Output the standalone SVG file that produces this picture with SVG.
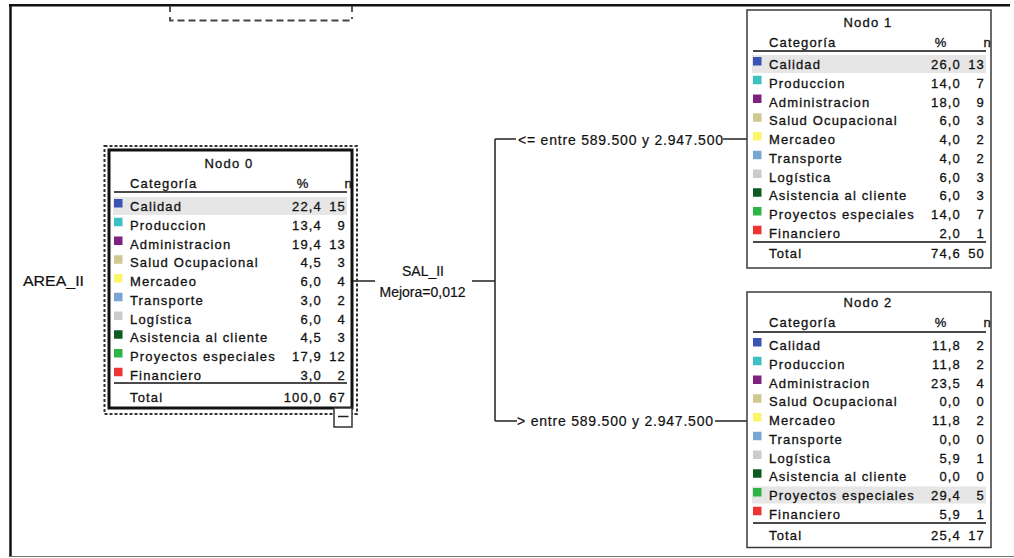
<svg xmlns="http://www.w3.org/2000/svg" width="1014" height="558" viewBox="0 0 1014 558">
<style>
.t{font-family:"Liberation Sans",Arial,sans-serif;font-size:13px;letter-spacing:1.15px;fill:#111;stroke:#111;stroke-width:0.3px}
.e{text-anchor:end}
.m{text-anchor:middle}
.lbl{font-family:"Liberation Sans",Arial,sans-serif;font-size:14px;fill:#111;stroke:#111;stroke-width:0.2px}
.hl{fill:#e6e6e6}
.rule{stroke:#4a4a4a;stroke-width:2}
.conn{stroke:#222;stroke-width:1.5;fill:none}
.box{fill:#fff;stroke:#3a3a3a;stroke-width:1.5}
.c1{fill:#3a53b5}.c2{fill:#3cc0c4}.c3{fill:#7e2180}.c4{fill:#cfc98f}.c5{fill:#fbf56a}
.c6{fill:#7aa6d6}.c7{fill:#cccccc}.c8{fill:#0d5a22}.c9{fill:#2db444}.c10{fill:#ee3333}
</style>
<rect width="1014" height="558" fill="#fff"/>
<!-- frame -->
<line x1="10.5" y1="4" x2="10.5" y2="557" stroke="#111" stroke-width="2.5"/>
<line x1="9" y1="5.2" x2="1010" y2="5.2" stroke="#111" stroke-width="2.5"/>
<line x1="10" y1="556.5" x2="1014" y2="556.5" stroke="#777" stroke-width="1.2"/>
<!-- partial dashed box at top -->
<g id="hidden-node" fill="none" stroke="#444" stroke-width="1.8">
<line x1="170" y1="6" x2="170" y2="12"/>
<line x1="352" y1="6" x2="352" y2="12"/>
<path d="M170,17 V20.5 H352 V17" stroke-dasharray="7,4"/>
</g>
<!-- connectors -->
<g id="connectors">
<path class="conn" d="M352,281 H375 M472,281 H495 M495,139 V421 M495,139 H516 M723,139 H747 M495,421 H517 M715,421 H747"/>
</g>
<g id="labels">
<text class="lbl" x="23" y="286" textLength="61" lengthAdjust="spacingAndGlyphs">AREA_II</text>
<text class="lbl m" x="423" y="275.5">SAL_II</text>
<text class="lbl m" x="422.5" y="296.5">Mejora=0,012</text>
<text class="lbl" x="518" y="144.5" textLength="205" lengthAdjust="spacing">&lt;= entre 589.500 y 2.947.500</text>
<text class="lbl" x="517" y="426" textLength="196" lengthAdjust="spacing">&gt; entre 589.500 y 2.947.500</text>
</g>
<!-- Node 0 -->
<g id="node0">
<rect x="104.5" y="146" width="252.5" height="268" fill="none" stroke="#333" stroke-width="2" stroke-dasharray="3,2"/>
<rect x="109" y="150" width="243" height="258" fill="#fff" stroke="#111" stroke-width="3"/>
<rect x="334" y="408" width="18" height="19" fill="#fff" stroke="#333" stroke-width="1.5"/>
<line x1="338" y1="416.5" x2="348.5" y2="416.5" stroke="#222" stroke-width="1.5"/>
<rect class="hl" x="113" y="197" width="234" height="18"/>
<text class="t m" x="229" y="168">Nodo 0</text>
<text class="t" x="130" y="188">Categoría</text><text class="t m" x="303" y="188">%</text><text class="t e" x="353" y="188">n</text>
<line class="rule" x1="114" y1="192" x2="347" y2="192"/>
<rect class="c1" x="114" y="199" width="8.5" height="8.5"/><text class="t" x="130" y="211">Calidad</text><text class="t e" x="322" y="211">22,4</text><text class="t e" x="346" y="211">15</text>
<rect class="c2" x="114" y="217.75" width="8.5" height="8.5"/><text class="t" x="130" y="229.75">Produccion</text><text class="t e" x="322" y="229.75">13,4</text><text class="t e" x="346" y="229.75">9</text>
<rect class="c3" x="114" y="236.5" width="8.5" height="8.5"/><text class="t" x="130" y="248.5">Administracion</text><text class="t e" x="322" y="248.5">19,4</text><text class="t e" x="346" y="248.5">13</text>
<rect class="c4" x="114" y="255.25" width="8.5" height="8.5"/><text class="t" x="130" y="267.25">Salud Ocupacional</text><text class="t e" x="322" y="267.25">4,5</text><text class="t e" x="346" y="267.25">3</text>
<rect class="c5" x="114" y="274" width="8.5" height="8.5"/><text class="t" x="130" y="286">Mercadeo</text><text class="t e" x="322" y="286">6,0</text><text class="t e" x="346" y="286">4</text>
<rect class="c6" x="114" y="292.75" width="8.5" height="8.5"/><text class="t" x="130" y="304.75">Transporte</text><text class="t e" x="322" y="304.75">3,0</text><text class="t e" x="346" y="304.75">2</text>
<rect class="c7" x="114" y="311.5" width="8.5" height="8.5"/><text class="t" x="130" y="323.5">Logística</text><text class="t e" x="322" y="323.5">6,0</text><text class="t e" x="346" y="323.5">4</text>
<rect class="c8" x="114" y="330.25" width="8.5" height="8.5"/><text class="t" x="130" y="342.25">Asistencia al cliente</text><text class="t e" x="322" y="342.25">4,5</text><text class="t e" x="346" y="342.25">3</text>
<rect class="c9" x="114" y="349" width="8.5" height="8.5"/><text class="t" x="130" y="361">Proyectos especiales</text><text class="t e" x="322" y="361">17,9</text><text class="t e" x="346" y="361">12</text>
<rect class="c10" x="114" y="367.75" width="8.5" height="8.5"/><text class="t" x="130" y="379.75">Financiero</text><text class="t e" x="322" y="379.75">3,0</text><text class="t e" x="346" y="379.75">2</text>
<line class="rule" x1="114" y1="383" x2="347" y2="383"/>
<text class="t" x="130" y="402">Total</text><text class="t e" x="322" y="402">100,0</text><text class="t e" x="346" y="402">67</text>
</g>
<!-- Node 1 -->
<g id="node1" transform="translate(639,-142)">
<rect class="box" x="108" y="152" width="244" height="258"/>
<rect class="hl" x="113" y="197" width="234" height="18"/>
<text class="t m" x="229" y="169">Nodo 1</text>
<text class="t" x="130" y="189">Categoría</text><text class="t m" x="302" y="189">%</text><text class="t e" x="353" y="189">n</text>
<line class="rule" x1="114" y1="193" x2="347" y2="193"/>
<rect class="c1" x="114" y="199" width="8.5" height="8.5"/><text class="t" x="130" y="211">Calidad</text><text class="t e" x="322" y="211">26,0</text><text class="t e" x="346" y="211">13</text>
<rect class="c2" x="114" y="217.75" width="8.5" height="8.5"/><text class="t" x="130" y="229.75">Produccion</text><text class="t e" x="322" y="229.75">14,0</text><text class="t e" x="346" y="229.75">7</text>
<rect class="c3" x="114" y="236.5" width="8.5" height="8.5"/><text class="t" x="130" y="248.5">Administracion</text><text class="t e" x="322" y="248.5">18,0</text><text class="t e" x="346" y="248.5">9</text>
<rect class="c4" x="114" y="255.25" width="8.5" height="8.5"/><text class="t" x="130" y="267.25">Salud Ocupacional</text><text class="t e" x="322" y="267.25">6,0</text><text class="t e" x="346" y="267.25">3</text>
<rect class="c5" x="114" y="274" width="8.5" height="8.5"/><text class="t" x="130" y="286">Mercadeo</text><text class="t e" x="322" y="286">4,0</text><text class="t e" x="346" y="286">2</text>
<rect class="c6" x="114" y="292.75" width="8.5" height="8.5"/><text class="t" x="130" y="304.75">Transporte</text><text class="t e" x="322" y="304.75">4,0</text><text class="t e" x="346" y="304.75">2</text>
<rect class="c7" x="114" y="311.5" width="8.5" height="8.5"/><text class="t" x="130" y="323.5">Logística</text><text class="t e" x="322" y="323.5">6,0</text><text class="t e" x="346" y="323.5">3</text>
<rect class="c8" x="114" y="330.25" width="8.5" height="8.5"/><text class="t" x="130" y="342.25">Asistencia al cliente</text><text class="t e" x="322" y="342.25">6,0</text><text class="t e" x="346" y="342.25">3</text>
<rect class="c9" x="114" y="349" width="8.5" height="8.5"/><text class="t" x="130" y="361">Proyectos especiales</text><text class="t e" x="322" y="361">14,0</text><text class="t e" x="346" y="361">7</text>
<rect class="c10" x="114" y="367.75" width="8.5" height="8.5"/><text class="t" x="130" y="379.75">Financiero</text><text class="t e" x="322" y="379.75">2,0</text><text class="t e" x="346" y="379.75">1</text>
<line class="rule" x1="114" y1="384" x2="347" y2="384"/>
<text class="t" x="130" y="400">Total</text><text class="t e" x="322" y="400">74,6</text><text class="t e" x="346" y="400">50</text>
</g>
<!-- Node 2 -->
<g id="node2" transform="translate(639,139)">
<rect class="box" x="108" y="153" width="244" height="255.5"/>
<rect class="hl" x="113" y="347.5" width="234" height="17"/>
<text class="t m" x="229" y="168">Nodo 2</text>
<text class="t" x="130" y="188">Categoría</text><text class="t m" x="302" y="188">%</text><text class="t e" x="353" y="188">n</text>
<line class="rule" x1="114" y1="193" x2="347" y2="193"/>
<rect class="c1" x="114" y="199" width="8.5" height="8.5"/><text class="t" x="130" y="211">Calidad</text><text class="t e" x="322" y="211">11,8</text><text class="t e" x="346" y="211">2</text>
<rect class="c2" x="114" y="217.75" width="8.5" height="8.5"/><text class="t" x="130" y="229.75">Produccion</text><text class="t e" x="322" y="229.75">11,8</text><text class="t e" x="346" y="229.75">2</text>
<rect class="c3" x="114" y="236.5" width="8.5" height="8.5"/><text class="t" x="130" y="248.5">Administracion</text><text class="t e" x="322" y="248.5">23,5</text><text class="t e" x="346" y="248.5">4</text>
<rect class="c4" x="114" y="255.25" width="8.5" height="8.5"/><text class="t" x="130" y="267.25">Salud Ocupacional</text><text class="t e" x="322" y="267.25">0,0</text><text class="t e" x="346" y="267.25">0</text>
<rect class="c5" x="114" y="274" width="8.5" height="8.5"/><text class="t" x="130" y="286">Mercadeo</text><text class="t e" x="322" y="286">11,8</text><text class="t e" x="346" y="286">2</text>
<rect class="c6" x="114" y="292.75" width="8.5" height="8.5"/><text class="t" x="130" y="304.75">Transporte</text><text class="t e" x="322" y="304.75">0,0</text><text class="t e" x="346" y="304.75">0</text>
<rect class="c7" x="114" y="311.5" width="8.5" height="8.5"/><text class="t" x="130" y="323.5">Logística</text><text class="t e" x="322" y="323.5">5,9</text><text class="t e" x="346" y="323.5">1</text>
<rect class="c8" x="114" y="330.25" width="8.5" height="8.5"/><text class="t" x="130" y="342.25">Asistencia al cliente</text><text class="t e" x="322" y="342.25">0,0</text><text class="t e" x="346" y="342.25">0</text>
<rect class="c9" x="114" y="349" width="8.5" height="8.5"/><text class="t" x="130" y="361">Proyectos especiales</text><text class="t e" x="322" y="361">29,4</text><text class="t e" x="346" y="361">5</text>
<rect class="c10" x="114" y="367.75" width="8.5" height="8.5"/><text class="t" x="130" y="379.75">Financiero</text><text class="t e" x="322" y="379.75">5,9</text><text class="t e" x="346" y="379.75">1</text>
<line class="rule" x1="114" y1="384" x2="347" y2="384"/>
<text class="t" x="130" y="401">Total</text><text class="t e" x="322" y="401">25,4</text><text class="t e" x="346" y="401">17</text>
</g>
</svg>
